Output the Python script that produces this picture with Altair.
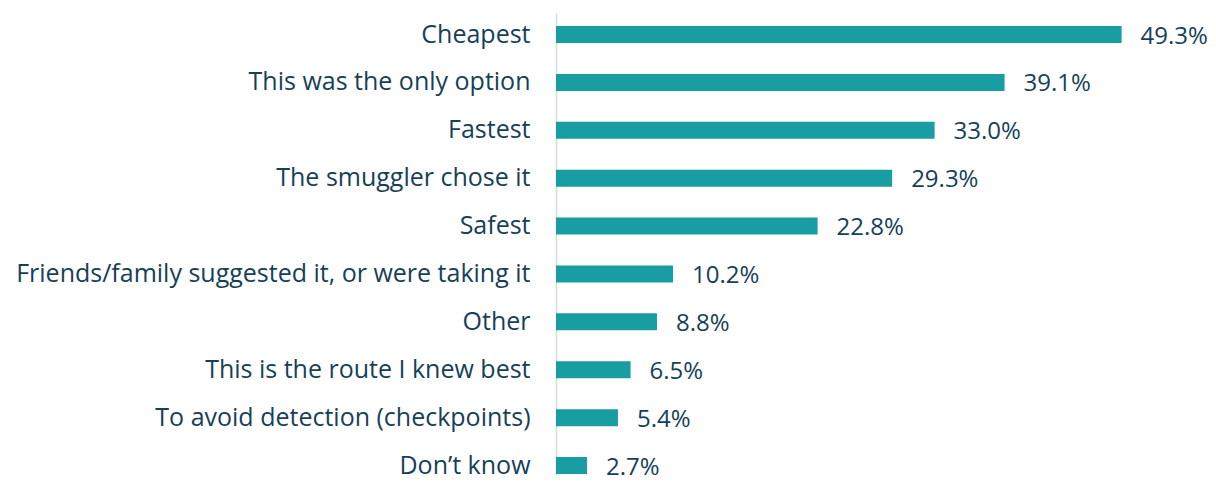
import altair as alt
import pandas as pd

categories = [
    "Cheapest",
    "This was the only option",
    "Fastest",
    "The smuggler chose it",
    "Safest",
    "Friends/family suggested it, or were taking it",
    "Other",
    "This is the route I knew best",
    "To avoid detection (checkpoints)",
    "Don\u2019t know",
]
values = [49.3, 39.1, 33.0, 29.3, 22.8, 10.2, 8.8, 6.5, 5.4, 2.7]
labels = [f"{v:.1f}%" for v in values]

df = pd.DataFrame({"reason": categories, "pct": values, "label": labels})

FONT = "Open Sans"
TEXT_COLOR = "#173f5a"
BAR_COLOR = "#179da2"

y = alt.Y(
    "reason:N",
    sort=categories,
    title=None,
    scale=alt.Scale(paddingInner=0.645, paddingOuter=0.146, align=0.93),
    axis=alt.Axis(
        domain=True,
        domainColor="#d9d9d9",
        domainWidth=1.5,
        ticks=False,
        labelPadding=26,
        labelFont=FONT,
        labelFontSize=25,
        labelColor=TEXT_COLOR,
        labelLimit=600,
    ),
)
x = alt.X("pct:Q", title=None, scale=alt.Scale(domain=[0, 55], nice=False), axis=None)

bars = alt.Chart(df).mark_bar(color=BAR_COLOR).encode(x=x, y=y)
text = alt.Chart(df).mark_text(
    align="left", baseline="middle", dx=19, dy=2, font=FONT, fontSize=24, color=TEXT_COLOR
).encode(x=x, y=alt.Y("reason:N", sort=categories), text="label:N")

chart = (
    (bars + text)
    .properties(
        width=631,
        height=462,
        padding={"left": 548, "top": 5, "right": 21, "bottom": 8},
        autosize=alt.AutoSizeParams(type="none"),
    )
    .configure_view(stroke=None)
)

chart.save("out.html", embed_options={"renderer": "svg", "actions": False})
